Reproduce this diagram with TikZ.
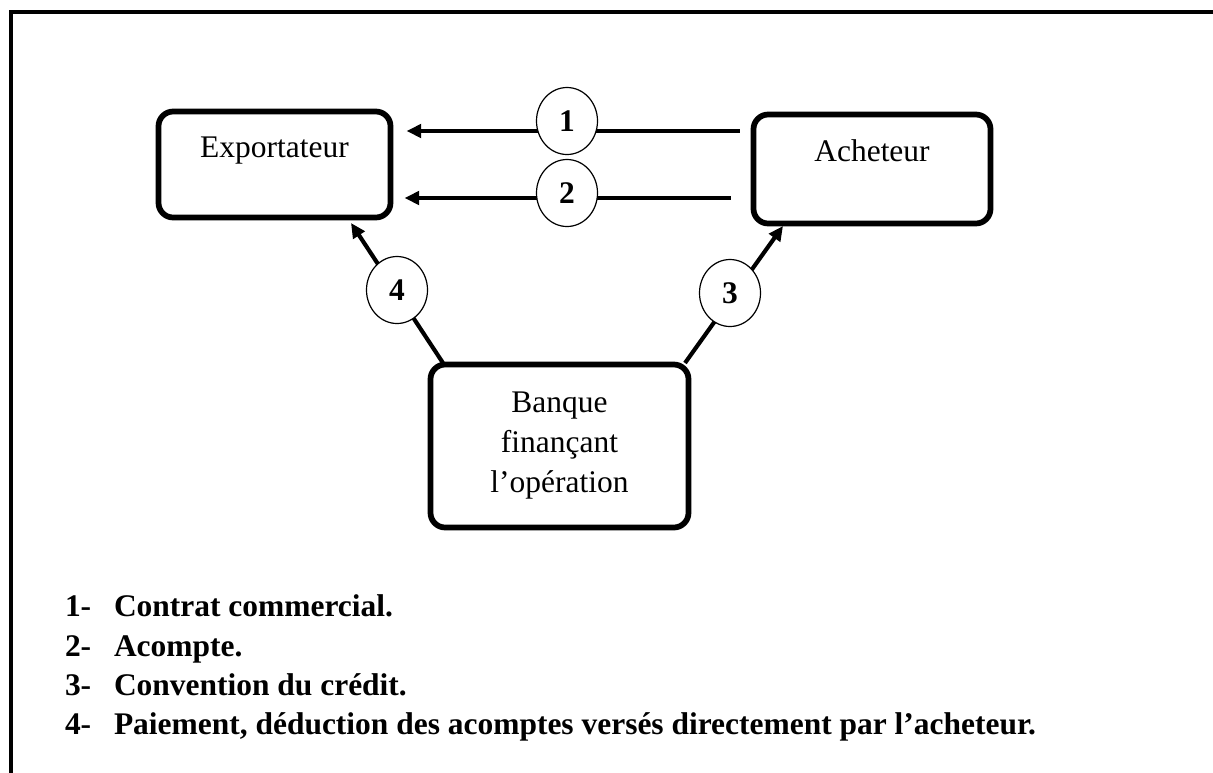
\documentclass[tikz,border=0pt]{standalone}
\usepackage{fontspec}
\setmainfont{Liberation Serif}
\usetikzlibrary{arrows.meta,shapes.geometric,calc}
\begin{document}
\begin{tikzpicture}[x=0.75pt,y=-0.75pt,
  every node/.style={inner sep=0pt, outer sep=0pt},
  txt/.style={font=\fontsize{23.6}{30}\selectfont},
  party/.style={txt, draw, line width=4.3pt, rounded corners=11pt, align=center},
  toprow/.style={party, text height=12pt, text depth=23pt},
  numcirc/.style={draw, fill=white, line width=0.9pt, ellipse,
    minimum width=45.75pt, minimum height=50.25pt,
    font=\fontsize{23.6}{30}\selectfont\bfseries},
  flow/.style={line width=3.1pt, -{Triangle[length=11pt,width=10pt]}},
  frame/.style={line width=3pt},
  legnum/.style={anchor=base west, font=\fontsize{23.6}{30}\selectfont\bfseries},
  legtxt/.style={anchor=base west, font=\fontsize{23.6}{30}\selectfont\bfseries}]

\useasboundingbox (0,0) rectangle (1213,772);

% page frame (top and left edges)
\draw[frame] (10.5,790) -- (10.5,12) -- (1230,12);

% the three parties
\node[toprow, minimum width=174pt, minimum height=79.5pt] (exp) at (274.5,164.5) {Exportateur};
\node[toprow, minimum width=177.75pt, minimum height=81.75pt] (ach) at (872,169) {Acheteur};
\node[party, minimum width=193.5pt, minimum height=122.25pt] (ban) at (559.5,446)
  {Banque\\finançant\\l’opération};

% flows between the parties
\draw[flow, shorten <=10.5pt, shorten >=12pt] (ach.west |- 0,131) -- (exp.east |- 0,131);
\draw[flow, shorten <=17pt, shorten >=10.5pt] (ach.west |- 0,198) -- (exp.east |- 0,198);
\draw[flow] ($(ban.north west)+(12.5,-1.5)$) -- ($(exp.south west)+(192.5,5.5)$);
\draw[flow] ($(ban.north east)+(-3.5,-1.5)$) -- ($(ach.south west)+(29.5,2.5)$);

% step numbers on the flows
\node[numcirc] (c1) at (567,121) {1};
\node[numcirc] (c2) at (567,193) {2};
\node[numcirc] (c3) at (730,293) {3};
\node[numcirc] (c4) at (397,290) {4};

% legend
\node[legnum] (n1) at (65,616) {1-};
\node[legtxt] (l1) at (114,616) {Contrat commercial.};
\node[legnum] (n2) at (65,656) {2-};
\node[legtxt] (l2) at (114,656) {Acompte.};
\node[legnum] (n3) at (65,695) {3-};
\node[legtxt] (l3) at (114,695) {Convention du crédit.};
\node[legnum] (n4) at (65,734) {4-};
\node[legtxt] (l4) at (114,734) {Paiement, déduction des acomptes versés directement par l’acheteur.};
\end{tikzpicture}
\end{document}
